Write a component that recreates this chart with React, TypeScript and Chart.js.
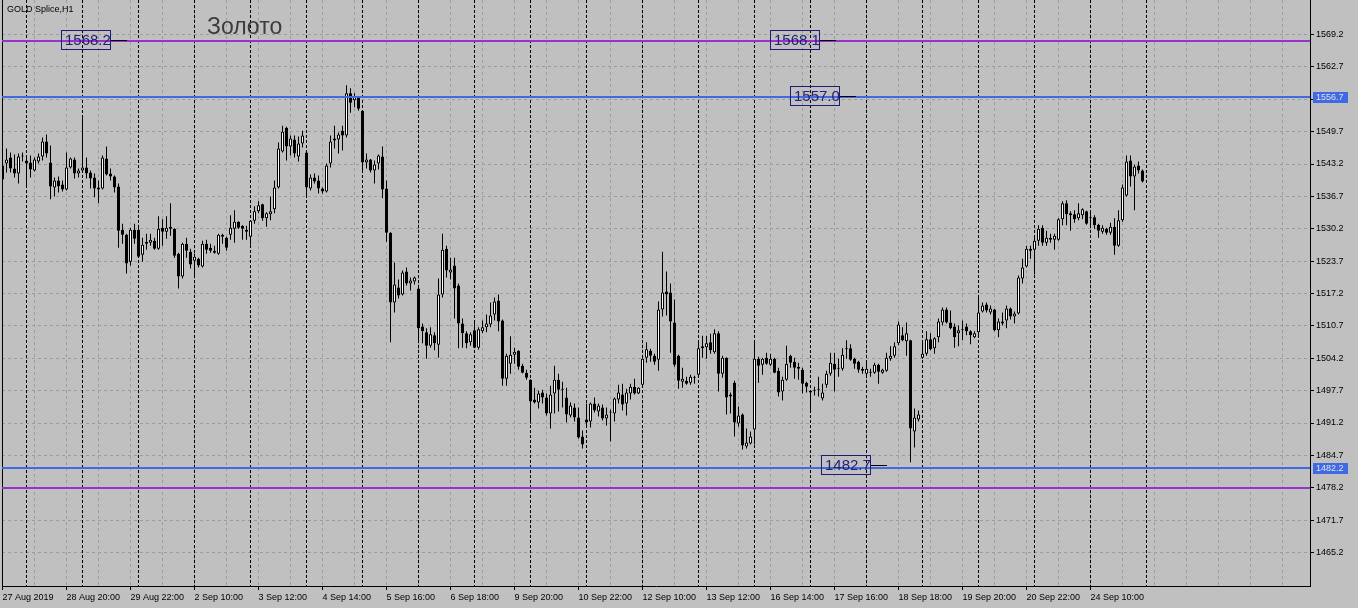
import React, { useEffect, useRef } from "react";
import { Chart, registerables } from "chart.js";

Chart.register(...registerables);

// ---- Data (GOLD Splice, H1, 27 Aug 2019 18:00 .. 24 Sep 2019 23:00) ----
const openP = [
  1542.9, 1543.3, 1544.5, 1542.3, 1541.3, 1544.7, 1543.9, 1543.5, 1541.9, 1543.7,
  1544.7, 1547.7, 1543.5, 1538.5, 1539.9, 1539.1, 1538.1, 1542.5, 1544.1, 1541.3,
  1541.9, 1542.5, 1541.5, 1540.5, 1538.1, 1538.3, 1544.3, 1541.3, 1540.7, 1538.7,
  1530.0, 1529.0, 1523.6, 1530.0, 1530.0, 1525.0, 1527.2, 1527.4, 1527.8, 1526.2,
  1530.4, 1529.6, 1530.6, 1530.2, 1525.2, 1520.6, 1527.2, 1525.6, 1523.8, 1524.2,
  1522.6, 1527.2, 1526.4, 1525.8, 1525.2, 1529.0, 1528.4, 1529.0, 1530.2, 1531.6,
  1530.8, 1530.0, 1528.6, 1531.8, 1533.7, 1535.1, 1532.3, 1533.1, 1534.1, 1538.5,
  1545.7, 1550.5, 1546.7, 1548.1, 1544.7, 1547.3, 1545.5, 1538.3, 1540.5, 1539.9,
  1538.3, 1537.7, 1543.3, 1547.9, 1548.1, 1549.9, 1548.9, 1557.4, 1556.0, 1556.6,
  1553.9, 1543.5, 1544.1, 1541.9, 1543.3, 1544.7, 1538.3, 1529.4, 1515.4, 1518.4,
  1517.0, 1521.6, 1519.2, 1519.6, 1518.2, 1510.6, 1509.4, 1506.7, 1508.8, 1506.9,
  1517.0, 1526.2, 1521.4, 1522.8, 1518.8, 1511.2, 1509.2, 1507.4, 1509.8, 1506.3,
  1509.6, 1510.4, 1511.0, 1513.0, 1515.8, 1511.8, 1500.1, 1503.1, 1504.9, 1505.7,
  1502.7, 1501.3, 1499.9, 1495.9, 1495.3, 1497.3, 1496.3, 1493.1, 1497.1, 1499.9,
  1497.9, 1496.3, 1492.7, 1494.3, 1492.3, 1488.5, 1491.9, 1491.5, 1495.1, 1493.5,
  1494.3, 1492.1, 1493.3, 1493.1, 1495.9, 1496.9, 1495.1, 1497.1, 1498.5, 1497.1,
  1498.9, 1504.3, 1505.7, 1504.7, 1503.9, 1514.0, 1517.6, 1517.4, 1511.4, 1504.7,
  1499.5, 1499.7, 1499.3, 1500.3, 1500.9, 1506.2, 1506.4, 1507.4, 1505.4, 1509.2,
  1501.1, 1504.3, 1496.9, 1499.3, 1491.1, 1492.9, 1486.5, 1487.1, 1489.9, 1504.1,
  1502.9, 1504.3, 1502.9, 1504.1, 1501.7, 1497.5, 1499.9, 1504.7, 1503.5, 1502.5,
  1501.9, 1499.3, 1497.3, 1497.7, 1498.1, 1496.1, 1498.9, 1501.1, 1503.1, 1502.3,
  1502.1, 1506.2, 1506.2, 1504.1, 1503.5, 1502.1, 1501.1, 1501.5, 1501.3, 1502.9,
  1501.3, 1501.7, 1504.1, 1504.7, 1507.2, 1508.8, 1507.6, 1507.8, 1489.5, 1491.9,
  1504.3, 1505.1, 1508.0, 1506.2, 1508.4, 1511.4, 1514.0, 1511.4, 1510.6, 1509.2,
  1509.8, 1510.6, 1509.6, 1508.4, 1509.4, 1513.6, 1515.0, 1513.4, 1514.0, 1509.8,
  1511.2, 1511.8, 1514.2, 1512.6, 1513.2, 1520.2, 1522.6, 1526.2, 1526.0, 1527.8,
  1530.4, 1527.4, 1528.4, 1528.0, 1528.0, 1532.1, 1535.3, 1533.3, 1533.1, 1532.3,
  1532.9, 1533.7, 1532.5, 1532.5, 1531.0, 1529.6, 1530.2, 1529.4, 1530.6, 1526.8,
  1531.9, 1536.9, 1543.9, 1540.7, 1542.9, 1541.9,
];

const highP = [
  1543.9, 1546.3, 1545.5, 1545.1, 1545.3, 1545.5, 1544.9, 1544.9, 1544.5, 1545.3,
  1548.5, 1549.1, 1546.9, 1540.5, 1540.7, 1539.9, 1545.5, 1544.5, 1544.5, 1542.3,
  1552.5, 1544.5, 1541.9, 1541.3, 1539.9, 1544.9, 1546.7, 1542.3, 1540.9, 1539.3,
  1531.2, 1529.2, 1530.4, 1531.2, 1531.0, 1528.4, 1529.2, 1529.2, 1528.4, 1532.7,
  1532.1, 1532.7, 1535.3, 1530.3, 1525.4, 1527.4, 1528.4, 1526.2, 1525.2, 1524.4,
  1527.8, 1528.0, 1527.2, 1526.8, 1529.2, 1529.2, 1528.6, 1532.9, 1533.9, 1531.7,
  1530.9, 1530.8, 1531.9, 1534.7, 1535.7, 1535.2, 1533.5, 1536.7, 1539.9, 1547.5,
  1550.9, 1550.7, 1548.9, 1548.9, 1548.7, 1549.9, 1545.6, 1541.1, 1541.3, 1540.9,
  1538.5, 1543.3, 1548.9, 1550.9, 1549.5, 1550.9, 1559.0, 1558.4, 1557.4, 1556.7,
  1554.0, 1545.3, 1544.2, 1543.9, 1545.1, 1546.7, 1539.9, 1529.5, 1523.4, 1520.0,
  1521.8, 1522.4, 1520.4, 1520.6, 1518.3, 1511.2, 1510.2, 1510.4, 1509.4, 1520.2,
  1529.2, 1526.8, 1524.4, 1524.4, 1519.2, 1512.2, 1509.6, 1509.4, 1511.8, 1510.4,
  1511.8, 1513.0, 1515.4, 1516.4, 1517.0, 1512.0, 1505.1, 1508.6, 1506.3, 1505.8,
  1503.1, 1501.9, 1500.0, 1498.3, 1497.7, 1497.9, 1497.1, 1498.7, 1502.7, 1501.1,
  1499.5, 1498.3, 1495.3, 1495.1, 1494.3, 1489.7, 1495.1, 1495.3, 1496.3, 1495.1,
  1494.9, 1494.3, 1493.9, 1496.3, 1498.9, 1499.1, 1498.1, 1499.1, 1500.1, 1498.4,
  1504.2, 1507.4, 1506.1, 1505.1, 1515.6, 1525.6, 1521.6, 1519.2, 1516.0, 1504.9,
  1502.3, 1500.5, 1500.9, 1500.7, 1507.3, 1508.7, 1508.7, 1509.1, 1510.0, 1509.6,
  1504.7, 1504.4, 1497.3, 1499.7, 1494.5, 1493.1, 1490.1, 1489.5, 1507.3, 1504.5,
  1504.3, 1505.3, 1505.1, 1504.3, 1502.3, 1500.5, 1506.7, 1504.9, 1504.3, 1503.3,
  1502.3, 1499.5, 1497.8, 1498.5, 1500.5, 1499.1, 1501.7, 1505.3, 1505.3, 1504.1,
  1506.2, 1507.8, 1507.0, 1504.3, 1503.7, 1502.5, 1503.3, 1502.1, 1503.3, 1503.1,
  1502.1, 1505.3, 1506.6, 1507.4, 1511.6, 1510.4, 1511.4, 1507.9, 1494.1, 1493.7,
  1507.8, 1509.6, 1509.2, 1508.4, 1512.2, 1514.4, 1514.4, 1513.8, 1511.2, 1510.8,
  1511.8, 1511.2, 1509.8, 1509.6, 1516.6, 1515.4, 1515.4, 1514.8, 1514.1, 1512.2,
  1513.4, 1514.8, 1514.4, 1513.6, 1520.8, 1524.2, 1526.8, 1526.8, 1528.4, 1530.9,
  1530.9, 1529.8, 1529.2, 1529.2, 1532.3, 1535.7, 1535.9, 1533.7, 1533.9, 1535.3,
  1534.3, 1533.8, 1533.5, 1532.9, 1531.2, 1530.9, 1530.4, 1531.4, 1532.3, 1533.9,
  1539.1, 1544.9, 1544.9, 1543.1, 1543.7, 1542.1,
];

const lowP = [
  1539.3, 1541.5, 1541.5, 1540.5, 1539.3, 1543.7, 1538.9, 1540.5, 1541.7, 1543.3,
  1543.9, 1544.5, 1536.1, 1536.7, 1537.5, 1537.7, 1537.9, 1542.3, 1540.3, 1540.5,
  1541.5, 1540.3, 1538.3, 1536.5, 1535.3, 1538.1, 1540.9, 1539.9, 1537.5, 1526.4,
  1527.2, 1521.2, 1522.8, 1527.2, 1524.4, 1523.6, 1526.0, 1526.8, 1526.0, 1526.0,
  1526.8, 1528.2, 1528.8, 1524.4, 1518.2, 1520.2, 1524.4, 1522.2, 1520.8, 1522.4,
  1522.4, 1525.2, 1525.4, 1525.2, 1525.0, 1527.2, 1525.8, 1528.0, 1527.4, 1530.2,
  1528.0, 1528.0, 1527.0, 1531.2, 1533.3, 1531.8, 1530.6, 1531.9, 1533.3, 1538.3,
  1545.5, 1543.9, 1544.9, 1544.5, 1543.7, 1546.5, 1536.5, 1537.9, 1539.3, 1537.3,
  1537.3, 1537.5, 1542.5, 1546.3, 1545.3, 1545.9, 1548.5, 1553.5, 1554.6, 1553.9,
  1541.5, 1542.3, 1541.5, 1539.3, 1542.1, 1536.3, 1527.6, 1507.4, 1513.4, 1516.2,
  1516.8, 1518.8, 1517.8, 1519.0, 1507.4, 1507.2, 1504.1, 1506.3, 1505.8, 1504.3,
  1516.4, 1520.4, 1520.0, 1512.2, 1506.2, 1506.3, 1506.2, 1506.7, 1506.2, 1505.9,
  1509.2, 1509.4, 1510.4, 1511.8, 1509.6, 1498.7, 1498.7, 1501.1, 1503.1, 1501.9,
  1501.2, 1499.9, 1491.1, 1495.1, 1494.1, 1495.1, 1492.7, 1490.1, 1493.1, 1493.5,
  1494.3, 1491.3, 1492.3, 1491.5, 1488.1, 1486.1, 1490.7, 1490.3, 1493.3, 1492.5,
  1491.7, 1490.7, 1487.5, 1491.5, 1495.1, 1493.7, 1492.7, 1495.9, 1496.9, 1497.0,
  1498.7, 1503.3, 1503.5, 1502.9, 1501.7, 1512.6, 1512.8, 1505.3, 1502.5, 1498.1,
  1498.3, 1498.9, 1498.9, 1499.1, 1500.7, 1504.3, 1504.1, 1505.1, 1505.1, 1497.5,
  1500.3, 1492.9, 1493.1, 1488.5, 1490.5, 1485.9, 1486.1, 1486.9, 1486.9, 1499.3,
  1500.9, 1502.9, 1502.7, 1501.2, 1496.5, 1495.7, 1499.7, 1502.3, 1500.1, 1499.9,
  1497.1, 1497.3, 1493.7, 1496.7, 1496.5, 1495.7, 1498.3, 1500.7, 1497.5, 1500.5,
  1501.7, 1504.1, 1503.7, 1502.1, 1501.3, 1501.1, 1500.5, 1500.5, 1501.1, 1499.1,
  1501.1, 1501.5, 1503.7, 1504.3, 1506.8, 1507.6, 1504.7, 1483.3, 1486.3, 1491.5,
  1504.1, 1504.7, 1505.8, 1505.1, 1507.4, 1510.8, 1511.2, 1510.0, 1506.3, 1506.6,
  1507.8, 1508.8, 1507.0, 1508.2, 1508.8, 1513.4, 1513.4, 1513.0, 1509.6, 1508.4,
  1510.8, 1510.2, 1512.0, 1511.2, 1513.0, 1519.2, 1522.4, 1524.2, 1521.0, 1526.8,
  1526.8, 1526.8, 1527.4, 1526.0, 1527.8, 1530.9, 1530.9, 1529.8, 1531.4, 1531.9,
  1532.1, 1531.0, 1530.9, 1530.2, 1528.4, 1529.2, 1529.0, 1529.0, 1525.0, 1526.6,
  1531.6, 1536.7, 1538.7, 1533.9, 1541.3, 1539.5,
];

const closeP = [
  1540.1, 1544.1, 1542.3, 1541.3, 1544.7, 1544.9, 1543.3, 1542.1, 1544.1, 1544.7,
  1547.7, 1545.3, 1538.7, 1539.9, 1538.7, 1538.1, 1542.5, 1544.3, 1541.3, 1541.9,
  1542.5, 1541.3, 1540.3, 1538.3, 1538.5, 1544.5, 1541.1, 1540.7, 1538.5, 1529.8,
  1529.0, 1523.2, 1530.0, 1528.2, 1524.6, 1527.0, 1527.6, 1528.0, 1526.2, 1530.2,
  1529.6, 1530.4, 1530.2, 1524.8, 1520.6, 1527.2, 1525.8, 1523.0, 1524.6, 1522.8,
  1527.2, 1526.0, 1525.8, 1525.4, 1529.0, 1528.6, 1526.4, 1530.4, 1531.6, 1530.4,
  1530.2, 1529.6, 1531.8, 1533.7, 1534.9, 1532.3, 1533.3, 1533.7, 1538.5, 1546.3,
  1549.7, 1546.7, 1548.3, 1545.3, 1547.3, 1548.9, 1538.5, 1540.5, 1539.7, 1538.3,
  1537.7, 1542.9, 1547.7, 1548.3, 1549.1, 1548.9, 1557.4, 1555.5, 1556.8, 1554.3,
  1543.5, 1544.1, 1541.9, 1543.1, 1544.9, 1538.1, 1529.4, 1515.4, 1519.0, 1516.8,
  1521.4, 1519.2, 1519.8, 1520.4, 1510.2, 1509.6, 1506.7, 1509.0, 1507.2, 1517.0,
  1526.0, 1521.8, 1522.0, 1518.2, 1511.2, 1509.2, 1507.2, 1509.0, 1506.3, 1510.0,
  1510.4, 1511.2, 1512.8, 1515.6, 1511.6, 1500.1, 1504.7, 1504.9, 1505.5, 1502.5,
  1501.3, 1500.3, 1495.5, 1495.3, 1497.1, 1496.3, 1493.1, 1496.9, 1499.9, 1497.9,
  1498.1, 1492.9, 1494.7, 1492.3, 1488.3, 1486.9, 1491.3, 1495.1, 1493.7, 1494.7,
  1492.1, 1492.9, 1493.5, 1496.1, 1497.3, 1494.9, 1497.3, 1498.5, 1497.1, 1498.3,
  1504.1, 1506.0, 1504.7, 1503.5, 1514.0, 1517.4, 1517.0, 1511.6, 1502.9, 1499.7,
  1500.1, 1499.1, 1500.5, 1500.5, 1506.2, 1506.6, 1507.2, 1505.8, 1509.2, 1501.1,
  1504.3, 1496.3, 1496.5, 1491.3, 1492.7, 1486.7, 1487.3, 1488.5, 1504.1, 1502.7,
  1504.1, 1503.1, 1504.1, 1501.3, 1497.3, 1499.9, 1503.1, 1503.3, 1502.3, 1502.1,
  1499.1, 1498.5, 1497.7, 1497.9, 1497.9, 1497.3, 1501.1, 1503.3, 1501.9, 1502.1,
  1504.9, 1506.0, 1503.9, 1503.1, 1501.9, 1501.7, 1502.1, 1501.3, 1502.9, 1501.5,
  1501.9, 1504.3, 1504.7, 1506.6, 1511.0, 1507.8, 1509.2, 1490.1, 1492.3, 1492.9,
  1505.1, 1508.0, 1506.0, 1508.2, 1511.6, 1514.0, 1511.4, 1510.2, 1508.4, 1509.8,
  1510.0, 1509.6, 1508.8, 1509.2, 1513.4, 1514.8, 1513.8, 1514.2, 1509.8, 1511.6,
  1511.6, 1514.2, 1512.6, 1513.2, 1520.4, 1522.4, 1526.2, 1525.8, 1527.8, 1530.2,
  1527.4, 1528.4, 1528.0, 1528.8, 1532.1, 1535.3, 1533.1, 1532.9, 1532.1, 1533.3,
  1534.1, 1531.2, 1532.3, 1530.9, 1529.8, 1530.4, 1529.4, 1530.6, 1526.8, 1531.9,
  1538.5, 1543.7, 1540.7, 1542.7, 1541.9, 1539.7,
];

// time axis labels (bar index -> text)
const timeLabelBars = [0, 16, 32, 48, 64, 80, 96, 112, 128, 144, 160, 176, 192, 208, 224, 240, 256, 272];
const timeLabels = [
  "27 Aug 2019", "28 Aug 20:00", "29 Aug 22:00", "2 Sep 10:00", "3 Sep 12:00", "4 Sep 14:00",
  "5 Sep 16:00", "6 Sep 18:00", "9 Sep 20:00", "10 Sep 22:00", "12 Sep 10:00", "13 Sep 12:00",
  "16 Sep 14:00", "17 Sep 16:00", "18 Sep 18:00", "19 Sep 20:00", "20 Sep 22:00", "24 Sep 10:00",
];
// first bar of each trading day (period separators)
const daySeparatorBars = [6, 20, 34, 48, 62, 76, 90, 104, 118, 132, 146, 160, 174, 188, 202, 216, 230, 244, 258, 272, 286];
const priceTicks = [
  1465.2, 1471.7, 1478.2, 1484.7, 1491.2, 1497.7, 1504.2, 1510.7, 1517.2,
  1523.7, 1530.2, 1536.7, 1543.2, 1549.7, 1556.2, 1562.7, 1569.2,
];
// horizontal level lines
const levelPrices = [1568.0, 1556.7, 1482.2, 1478.2];
const levelKinds = ["purple", "blue", "blue", "purple"];
const levelAxisLabels = ["", "1556.7", "1482.2", ""];
// text labels on the chart
const noteTexts = ["1568.2", "1568.1", "1557.0", "1482.7"];
const noteBars = [14.6, 191.9, 196.9, 204.6];
const notePrices = [1568.0, 1568.0, 1556.7, 1482.6];

const X_MIN = -0.125;
const X_MAX = 326.875;
const Y_MIN = 1458.475;
const Y_MAX = 1576.127;

const BG = "#C0C0C0";
const GRID = "#9c9c9c";
const FONT = "'Liberation Sans', Arial, sans-serif";
const COLORS: Record<string, string> = { purple: "#9932CC", blue: "#4169E1" };

const mtPlugin = {
  id: "mtDecor",
  beforeDraw(chart: any) {
    const ctx = chart.ctx;
    ctx.save();
    ctx.fillStyle = BG;
    ctx.fillRect(0, 0, chart.width, chart.height);
    ctx.restore();
  },
  beforeDatasetsDraw(chart: any) {
    const { ctx, chartArea: a } = chart;
    const x = chart.scales.x;
    const y = chart.scales.y;
    ctx.save();
    ctx.beginPath();
    ctx.rect(a.left, a.top, a.right - a.left, a.bottom - a.top);
    ctx.clip();
    ctx.lineWidth = 1;
    // gray dashed grid
    ctx.strokeStyle = GRID;
    ctx.setLineDash([3, 3]);
    ctx.beginPath();
    for (const p of priceTicks) {
      const py = Math.floor(y.getPixelForValue(p)) + 0.5;
      ctx.moveTo(a.left, py);
      ctx.lineTo(a.right, py);
    }
    for (let b = 0; x.getPixelForValue(b) < a.right; b += 8) {
      const px = Math.floor(x.getPixelForValue(b)) + 0.5;
      ctx.moveTo(px, a.top);
      ctx.lineTo(px, a.bottom);
    }
    ctx.stroke();
    // day separators
    ctx.strokeStyle = "#000";
    ctx.setLineDash([3, 2]);
    ctx.beginPath();
    for (const b of daySeparatorBars) {
      const px = Math.floor(x.getPixelForValue(b)) + 0.5;
      ctx.moveTo(px, a.top);
      ctx.lineTo(px, a.bottom);
    }
    ctx.stroke();
    ctx.restore();
  },
  afterDatasetsDraw(chart: any) {
    const { ctx, chartArea: a } = chart;
    const x = chart.scales.x;
    const y = chart.scales.y;
    ctx.save();
    // left frame line
    ctx.strokeStyle = "#000";
    ctx.lineWidth = 1;
    ctx.beginPath();
    ctx.moveTo(a.left + 0.5, a.top);
    ctx.lineTo(a.left + 0.5, a.bottom);
    ctx.stroke();

    ctx.save();
    ctx.beginPath();
    ctx.rect(a.left, a.top, a.right - a.left, a.bottom - a.top);
    ctx.clip();
    // level lines
    levelPrices.forEach((p, k) => {
      const py = Math.floor(y.getPixelForValue(p)) + 1;
      ctx.strokeStyle = COLORS[levelKinds[k]];
      ctx.lineWidth = 2;
      ctx.beginPath();
      ctx.moveTo(a.left, py);
      ctx.lineTo(a.right, py);
      ctx.stroke();
    });
    // note boxes
    noteTexts.forEach((t, k) => {
      const lx = Math.round(x.getPixelForValue(noteBars[k]));
      const ly = Math.floor(y.getPixelForValue(notePrices[k])) + 1;
      const w = 49;
      const h = 19;
      const top = ly - 11;
      ctx.lineWidth = 1;
      ctx.strokeStyle = "#1c1c78";
      ctx.strokeRect(lx + 0.5, top + 0.5, w, h);
      ctx.strokeStyle = "#000";
      ctx.beginPath();
      ctx.moveTo(lx + w + 1, ly - 0.5);
      ctx.lineTo(lx + w + 17, ly - 0.5);
      ctx.stroke();
      ctx.fillStyle = "#24207a";
      ctx.font = `15px ${FONT}`;
      ctx.textBaseline = "middle";
      ctx.textAlign = "left";
      ctx.fillText(t, lx + 4, top + h / 2 + 1.5);
    });
    ctx.restore();

    // chart titles
    ctx.fillStyle = "#000";
    ctx.font = `9px ${FONT}`;
    ctx.textBaseline = "alphabetic";
    ctx.textAlign = "left";
    ctx.fillText("GOLD Splice,H1", 7, 12);
    ctx.fillStyle = "#3c3c3c";
    ctx.font = `23px ${FONT}`;
    ctx.fillText("Золото", 207, 34);

    // axis price boxes for blue lines
    levelPrices.forEach((p, k) => {
      if (!levelAxisLabels[k]) return;
      const ly = Math.floor(y.getPixelForValue(p)) + 1;
      ctx.fillStyle = COLORS[levelKinds[k]];
      ctx.fillRect(a.right + 3, ly - 5, 35, 11);
      ctx.fillStyle = "#dde2ee";
      ctx.font = `9px ${FONT}`;
      ctx.textBaseline = "middle";
      ctx.fillText(levelAxisLabels[k], a.right + 6, ly + 0.5);
    });
    ctx.restore();
  },
};

export default function App() {
  const ref = useRef<HTMLCanvasElement | null>(null);

  useEffect(() => {
    document.body.style.margin = "0";
    document.body.style.background = BG;
    document.body.style.overflow = "hidden";
    const canvas = ref.current;
    if (!canvas) return;

    const bodies = openP.map((o, i) => ({ x: i, y: [Math.min(o, closeP[i]), Math.max(o, closeP[i])] }));
    const wicks = lowP.map((l, i) => ({ x: i, y: [l, highP[i]] }));

    const chart = new Chart(canvas, {
      type: "bar",
      data: {
        datasets: [
          {
            label: "body",
            data: bodies as any,
            backgroundColor: (c: any) => (closeP[c.dataIndex] > openP[c.dataIndex] ? "#FFFFFF" : "#000000"),
            borderColor: "#000000",
            borderWidth: 1,
            borderSkipped: false,
            barThickness: 3,
            minBarLength: 1,
            grouped: false,
            inflateAmount: 0,
          } as any,
          {
            label: "wick",
            data: wicks as any,
            backgroundColor: "#000000",
            borderWidth: 0,
            barThickness: 1,
            grouped: false,
            inflateAmount: 0,
          } as any,
        ],
      },
      options: {
        animation: false,
        responsive: false,
        devicePixelRatio: 1,
        events: [],
        layout: { padding: { left: 2, right: 0, top: 0, bottom: 0 } },
        plugins: { legend: { display: false }, tooltip: { enabled: false } },
        scales: {
          x: {
            type: "linear",
            min: X_MIN,
            max: X_MAX,
            offset: false,
            bounds: "data",
            afterFit: (s: any) => {
              s.height = 22;
              s.paddingLeft = 0;
              s.paddingRight = 0;
            },
            afterBuildTicks: (s: any) => {
              s.ticks = timeLabelBars.map((v) => ({ value: v }));
            },
            ticks: {
              autoSkip: false,
              maxRotation: 0,
              minRotation: 0,
              align: "start",
              padding: 2,
              color: "#000",
              font: { family: FONT, size: 9 },
              callback: (_v: any, i: number) => timeLabels[i],
            },
            grid: { drawOnChartArea: false, drawTicks: true, tickLength: 4, tickColor: "#000", offset: false },
            border: { display: true, color: "#000", width: 1 },
          } as any,
          y: {
            type: "linear",
            position: "right",
            min: Y_MIN,
            max: Y_MAX,
            bounds: "data",
            afterFit: (s: any) => {
              s.width = 48;
              s.paddingTop = 0;
              s.paddingBottom = 0;
            },
            afterBuildTicks: (s: any) => {
              s.ticks = priceTicks.map((v) => ({ value: v }));
            },
            ticks: {
              autoSkip: false,
              padding: 2,
              color: "#000",
              font: { family: FONT, size: 9 },
              callback: (v: any) => Number(v).toFixed(1),
            },
            grid: { drawOnChartArea: false, drawTicks: true, tickLength: 4, tickColor: "#000" },
            border: { display: true, color: "#000", width: 1 },
          } as any,
        },
      },
      plugins: [mtPlugin],
    });

    return () => chart.destroy();
  }, []);

  return (
    <canvas
      ref={ref}
      width={1358}
      height={608}
      style={{ display: "block", width: "1358px", height: "608px" }}
    />
  );
}
